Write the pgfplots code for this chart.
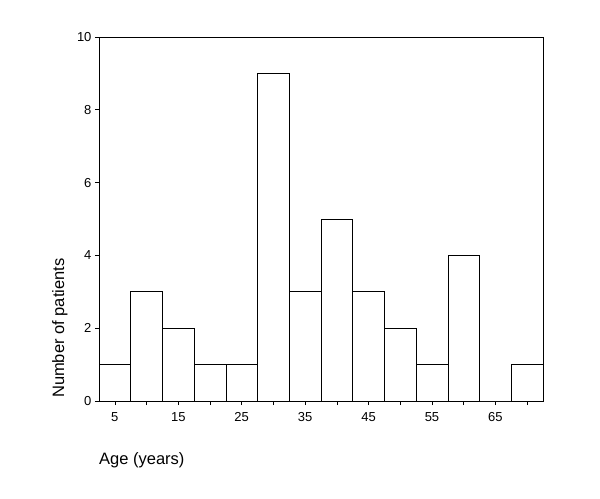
\documentclass[border=0pt]{standalone}
\usepackage{fontspec}
\setmainfont{Liberation Sans}
\usepackage{pgfplots}
\pgfplotsset{compat=1.18}
\begin{document}
\begin{tikzpicture}
\useasboundingbox (-99bp,-98bp) rectangle (501bp,401bp);
\begin{axis}[
  at={(0,0)}, anchor=origin,
  scale only axis, width=444bp, height=364bp,
  xmin=2.5, xmax=72.5, ymin=0, ymax=10,
  axis line style={line width=0.7bp},
  tick pos=left, tick align=outside,
  major tick length=4bp,
  tick style={line width=0.7bp, black},
  xtick={5,10,...,70},
  xticklabels={5,,15,,25,,35,,45,,55,,65,},
  ytick={0,2,...,10},
  /pgf/number format/assume math mode=true,
  ticklabel style={font=\fontsize{13bp}{15bp}\selectfont},
  xticklabel style={yshift=-4bp},
  xlabel={Age (years)},
  ylabel={Number of patients},
  label style={font=\fontsize{16.5bp}{20bp}\selectfont},
  xlabel style={at={(axis description cs:0,-0.162)}, anchor=west, inner sep=0pt},
  ylabel style={at={(axis description cs:-0.088,0.2)}, anchor=center, rotate=0},
  clip=false,
]
\addplot[ybar interval, fill=white, draw=black, line width=0.7bp] coordinates {
(2.5,1) (7.5,3) (12.5,2) (17.5,1) (22.5,1) (27.5,9) (32.5,3) (37.5,5) (42.5,3) (47.5,2) (52.5,1) (57.5,4) (62.5,0) (67.5,1) (72.5,1)
};
\end{axis}
\end{tikzpicture}
\end{document}
